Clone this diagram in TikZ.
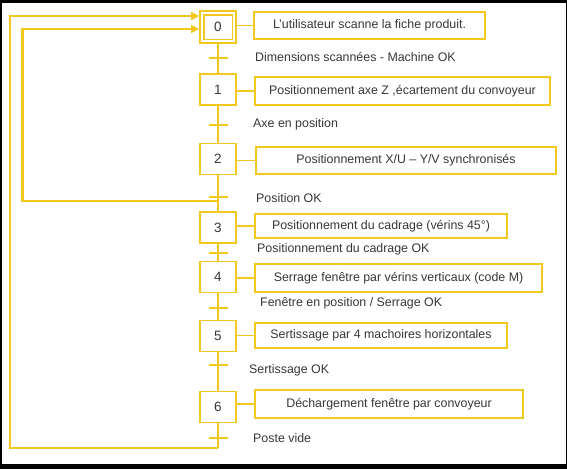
\documentclass[tikz,border=0pt]{standalone}
\usepackage{fontspec}
\setmainfont{Liberation Sans}
\usetikzlibrary{arrows.meta}
\definecolor{gy}{RGB}{242,200,28}
\definecolor{txt}{RGB}{55,55,55}
\tikzset{
  stepbox/.style={draw=gy,line width=1.8pt,fill=white,minimum width=36pt,minimum height=31pt,inner sep=0pt,font=\fontsize{13.5}{15}\selectfont,text=txt},
  actbox/.style={draw=gy,line width=1.8pt,fill=white,inner sep=0pt,font=\fontsize{12.4}{14}\selectfont,text=txt},
  trans/.style={fill=gy,draw=none,minimum width=19pt,minimum height=2.2pt,inner sep=0pt},
  lbl/.style={anchor=west,inner sep=0pt,font=\fontsize{12.4}{14}\selectfont,text=txt},
  spine/.style={draw=gy,line width=2.4pt},
  link/.style={draw=gy,line width=1.8pt},
  loopline/.style={draw=gy,line width=2.8pt,line join=miter,-{Triangle[length=8pt,width=8pt]}}
}
\begin{document}
\begin{tikzpicture}[x=1pt,y=-1pt]
\fill[black] (0,0) rectangle (567,469);
\fill[white] (2,3) rectangle (566,464);
\useasboundingbox (0,0) rectangle (567,469);

% transitions
\node[trans] (t0) at (218,58) {};
\node[trans] (t1) at (218,125) {};
\node[trans] (t2) at (218,197) {};
\node[trans] (t3) at (218,253) {};
\node[trans] (t4) at (218,308) {};
\node[trans] (t5) at (218,365) {};
\node[trans] (t6) at (218,438) {};

% spine and loop points
\coordinate (b1) at (218,448);
\coordinate (b2) at (10,448);
\coordinate (b3) at (10,16);
\coordinate (c1) at (218,201);
\coordinate (c2) at (22.7,201);
\coordinate (c3) at (22.7,29);

\draw[spine] (218,27) -- (b1);

% steps
\node[stepbox,minimum height=32pt] (s0) at (218,27) {};
\draw[draw=gy,line width=1.5pt] ([shift={(5,5)}]s0.north west) rectangle ([shift={(-4.5,-4.5)}]s0.south east);
\node[text=txt,font=\fontsize{13.5}{15}\selectfont] at (s0) {0};
\node[stepbox] (s1) at (218,89.5) {1};
\node[stepbox] (s2) at (218,159) {2};
\node[stepbox] (s3) at (218,227.5) {3};
\node[stepbox] (s4) at (218,277) {4};
\node[stepbox] (s5) at (218,336) {5};
\node[stepbox] (s6) at (218,407) {6};

% actions
\node[actbox,minimum width=231pt,minimum height=27pt] (a0) at (369.5,25.5) {L'utilisateur scanne la fiche produit.};
\node[actbox,minimum width=295pt,minimum height=28pt] (a1) at (402.5,91) {Positionnement axe Z ,écartement du convoyeur};
\node[actbox,minimum width=300pt,minimum height=27pt] (a2) at (406,160.5) {Positionnement X/U – Y/V synchronisés};
\node[actbox,minimum width=252pt,minimum height=24pt] (a3) at (381,226) {Positionnement du cadrage (vérins 45°)};
\node[actbox,minimum width=287pt,minimum height=28pt] (a4) at (398.5,278) {Serrage fenêtre par vérins verticaux (code M)};
\node[actbox,minimum width=252pt,minimum height=25pt] (a5) at (381,335.5) {Sertissage par 4 machoires horizontales};
\node[actbox,minimum width=268pt,minimum height=28pt] (a6) at (389,404) {Déchargement fenêtre par convoyeur};

\foreach \i in {0,...,6}{
  \draw[link] (a\i.west) -- (a\i.west -| s\i.east);
}

% transition labels
\node[lbl] (l0) at (255,57) {Dimensions scannées - Machine OK};
\node[lbl] (l1) at (253,124) {Axe en position};
\node[lbl] (l2) at (256,198) {Position OK};
\node[lbl] (l3) at (257,249) {Positionnement du cadrage OK};
\node[lbl] (l4) at (260,303) {Fenêtre en position / Serrage OK};
\node[lbl] (l5) at (249,370) {Sertissage OK};
\node[lbl] (l6) at (253,438) {Poste vide};

% loops
\draw[loopline] (b1) -- (b2) -- (b3) -- (b3 -| s0.west);
\draw[loopline] (c1) -- (c2) -- (c3) -- (c3 -| s0.west);
\end{tikzpicture}
\end{document}
